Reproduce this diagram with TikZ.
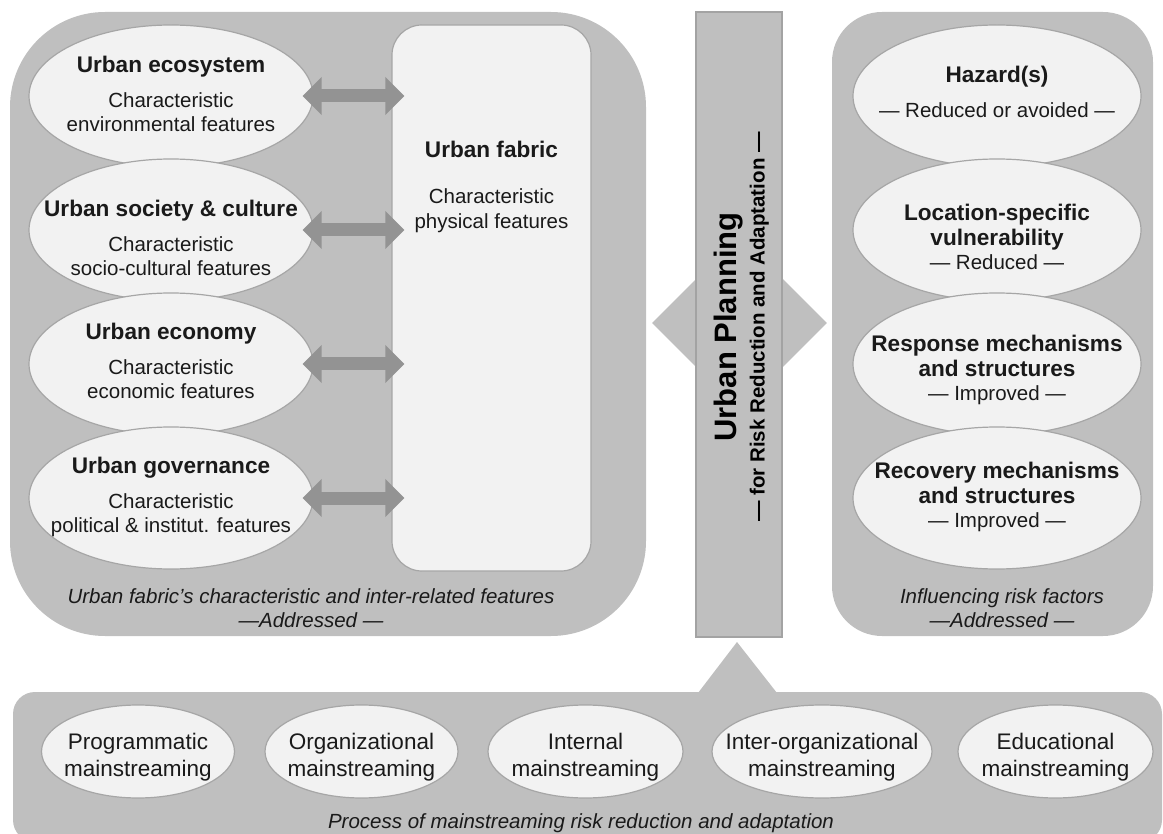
\documentclass[tikz,border=0pt]{standalone}
\usepackage{fontspec}
\setmainfont{Liberation Sans}
\usetikzlibrary{shapes.geometric,arrows.meta}
\definecolor{boxgray}{HTML}{BFBFBF}
\definecolor{ovalfill}{HTML}{F2F2F2}
\definecolor{ovalline}{HTML}{A6A6A6}
\definecolor{bargray}{HTML}{A3A3A3}
\definecolor{arrowgray}{HTML}{939393}
\definecolor{textgray}{HTML}{1A1A1A}
\newcommand{\bodyfont}{\fontsize{20.5}{24.5}\selectfont}
\newcommand{\headfont}{\fontsize{22.6}{25}\selectfont\bfseries}
\newcommand{\streamfont}{\fontsize{22.5}{27}\selectfont}
\newcommand{\planfont}{\fontsize{31}{31}\selectfont}
\begin{document}
\begin{tikzpicture}[x=1pt,y=-1pt,
  area/.style={fill=boxgray,draw=none},
  oval/.style={ellipse,fill=ovalfill,draw=ovalline,line width=1.2pt,inner sep=0pt},
  ovaltext/.style={align=center,font=\bodyfont,text=textgray,inner sep=0pt},
  streamtext/.style={align=center,font=\streamfont,text=textgray,inner sep=0pt},
  caption/.style={align=center,font=\bodyfont\itshape,text=textgray,inner sep=0pt},
  duo/.style={arrowgray,line width=13pt,
    {Triangle[width=37pt,length=19pt]}-{Triangle[width=37pt,length=19pt]},
    shorten <=-11pt,shorten >=-13pt}]
  \useasboundingbox (0,0) rectangle (1163,834);
  \fill[area,rounded corners=95pt] (10,12) rectangle (646,636);
  \fill[area,rounded corners=50pt] (832,12) rectangle (1153,636);
  \fill[area,rounded corners=22pt] (13,692) rectangle (1162,842);
  \fill[area] (698,693) -- (737,642) -- (777,693) -- cycle;
  \node[diamond,area,minimum width=175pt,minimum height=175pt,inner sep=0pt] (hub) at (739.5,323) {};
  \node[fill=boxgray,draw=bargray,line width=1.5pt,minimum width=86pt,minimum height=625pt,inner sep=0pt] (bar) at (739,324.5) {};
  \node[rotate=90,align=center,inner sep=0pt,font=\fontsize{20.5}{28}\selectfont\bfseries] (plan) at (741.5,327)
    {{\planfont Urban Planning}\\— for Risk Reduction and Adaptation —};

  \node[draw=ovalline,fill=ovalfill,line width=1.2pt,rounded corners=30pt,minimum width=199pt,minimum height=546pt,inner sep=0pt] (fabric) at (491.5,298) {};
  \node[ovaltext] (fabrictext) at (491.5,187) {{\headfont Urban fabric}\\[21.5pt]Characteristic\\physical features};

  \node[oval,minimum width=284pt,minimum height=142pt] (eco) at (171,96) {};
  \node[ovaltext] (ecotext) at (171,94) {{\headfont Urban ecosystem}\\[10.5pt]Characteristic\\environmental features};
  \node[oval,minimum width=284pt,minimum height=142pt] (soc) at (171,230) {};
  \node[ovaltext] (soctext) at (171,238) {{\headfont Urban society \& culture}\\[10.5pt]Characteristic\\socio-cultural features};
  \node[oval,minimum width=284pt,minimum height=142pt] (econ) at (171,364) {};
  \node[ovaltext] (econtext) at (171,361) {{\headfont Urban economy}\\[10.5pt]Characteristic\\economic features};
  \node[oval,minimum width=284pt,minimum height=142pt] (gov) at (171,498) {};
  \node[ovaltext] (govtext) at (171,497) {{\headfont Urban governance}\\[10.5pt]Characteristic\\political \& institut. features};
  \draw[duo] (eco.east) -- (eco.east -| fabric.west);
  \draw[duo] (soc.east) -- (soc.east -| fabric.west);
  \draw[duo] (econ.east) -- (econ.east -| fabric.west);
  \draw[duo] (gov.east) -- (gov.east -| fabric.west);
  \node[caption] (lefttitle) at (311,608) {Urban fabric’s characteristic and inter-related features\\—Addressed —};

  \node[oval,minimum width=288pt,minimum height=142pt] (haz) at (997,96) {};
  \node[ovaltext] (haztext) at (997,92) {{\headfont Hazard(s)}\\[10.5pt]— Reduced or avoided —};
  \node[oval,minimum width=288pt,minimum height=142pt] (vul) at (997,230) {};
  \node[ovaltext] (vultext) at (997,237) {{\headfont Location-specific}\\{\headfont vulnerability}\\— Reduced —};
  \node[oval,minimum width=288pt,minimum height=142pt] (resp) at (997,364) {};
  \node[ovaltext] (resptext) at (997,370) {{\headfont Response mechanisms}\\{\headfont and structures}\\— Improved —};
  \node[oval,minimum width=288pt,minimum height=142pt] (rec) at (997,498) {};
  \node[ovaltext] (rectext) at (997,497) {{\headfont Recovery mechanisms}\\{\headfont and structures}\\— Improved —};
  \node[caption] (righttitle) at (1002,608) {Influencing risk factors\\—Addressed —};

  \node[oval,minimum width=193pt,minimum height=93pt] (prog) at (138,751.5) {};
  \node[streamtext] (progtext) at (138,757.5) {Programmatic\\mainstreaming};
  \node[oval,minimum width=193pt,minimum height=93pt] (org) at (361.5,751.5) {};
  \node[streamtext] (orgtext) at (361.5,757.5) {Organizational\\mainstreaming};
  \node[oval,minimum width=195pt,minimum height=93pt] (intl) at (585.5,751.5) {};
  \node[streamtext] (intltext) at (585.5,757.5) {Internal\\mainstreaming};
  \node[oval,minimum width=220pt,minimum height=93pt] (inter) at (822,751.5) {};
  \node[streamtext] (intertext) at (822,757.5) {Inter-organizational\\mainstreaming};
  \node[oval,minimum width=195pt,minimum height=93pt] (edu) at (1055.5,751.5) {};
  \node[streamtext] (edutext) at (1055.5,757.5) {Educational\\mainstreaming};
  \node[caption] (bottomtitle) at (581,823.5) {Process of mainstreaming risk reduction and adaptation};
\end{tikzpicture}
\end{document}
